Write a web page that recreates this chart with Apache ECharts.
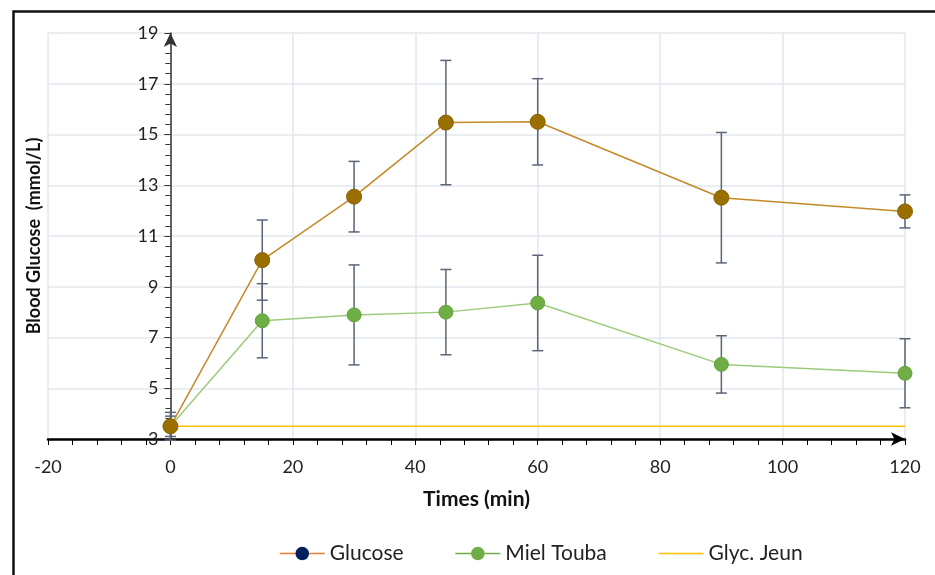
<!DOCTYPE html>
<html>
<head>
<meta charset="utf-8">
<script src="https://cdn.jsdelivr.net/npm/echarts@6/dist/echarts.min.js"></script>
<style>html,body{margin:0;padding:0;background:#fff;}#c{width:935px;height:575px;}</style>
</head>
<body>
<div id="c"></div>
<script>
const times = [0, 15, 30, 45, 60, 90, 120];
const glucoseMean = [3.5, 10.05, 12.55, 15.47, 15.5, 12.51, 11.97];
const glucoseErr = [0.55, 1.58, 1.39, 2.45, 1.7, 2.57, 0.65];
const mielMean = [3.5, 7.66, 7.89, 8.0, 8.36, 5.94, 5.59];
const mielErr = [0.4, 1.46, 1.97, 1.68, 1.88, 1.13, 1.36];
const jeunX = [0, 120];
const jeunY = [3.5, 3.5];
const seriesNames = ['Glucose', 'Miel Touba', 'Glyc. Jeun'];

const FONT = 'Lato';
const pair = (xs, ys) => xs.map((x, i) => [x, ys[i]]);
const errData = (xs, m, e) => xs.map((x, i) => [x, m[i] - e[i], m[i] + e[i]]);

function errRender(params, api) {
  const x = api.value(0), lo = api.value(1), hi = api.value(2);
  const pLo = api.coord([x, lo]), pHi = api.coord([x, hi]);
  const w = 5.5;
  const st = { stroke: '#5B6577', lineWidth: 1.5 };
  return {
    type: 'group',
    children: [
      { type: 'line', shape: { x1: pLo[0], y1: pLo[1], x2: pHi[0], y2: pHi[1] }, style: st },
      { type: 'line', shape: { x1: pLo[0] - w, y1: pLo[1], x2: pLo[0] + w, y2: pLo[1] }, style: st },
      { type: 'line', shape: { x1: pHi[0] - w, y1: pHi[1], x2: pHi[0] + w, y2: pHi[1] }, style: st }
    ]
  };
}

const GRID_LEFT = 48, GRID_RIGHT = 30;
const XMIN = -20, XMAX = 120;
const chartW = 935;
// place the y axis at x = 0 of the value axis
const yAxisOffset = -((0 - XMIN) / (XMAX - XMIN)) * (chartW - GRID_LEFT - GRID_RIGHT);

const chart = echarts.init(document.getElementById('c'), null, { renderer: 'canvas' });
chart.setOption({
  animation: false,
  backgroundColor: '#fff',
  textStyle: { fontFamily: FONT },
  grid: { left: GRID_LEFT, right: GRID_RIGHT, top: 33, bottom: 136, containLabel: false, outerBoundsMode: 'none' },
  graphic: [{
    type: 'rect', left: 11, top: 9, z: 100,
    shape: { width: 1000, height: 1000 },
    style: { fill: 'none', stroke: '#111', lineWidth: 2.5 }
  }],
  legend: {
    left: 274, top: 538, itemWidth: 45, itemHeight: 17, itemGap: 51,
    textStyle: { fontFamily: FONT, fontSize: 21, color: '#222' },
    data: [
      { name: seriesNames[0], itemStyle: { color: '#002060', borderWidth: 0 }, lineStyle: { color: '#ED7D31', width: 1.5 } },
      { name: seriesNames[1], itemStyle: { color: '#70AD47', borderWidth: 0 }, lineStyle: { color: '#70AD47', width: 1.5 } },
      { name: seriesNames[2], itemStyle: { color: 'rgba(0,0,0,0)', opacity: 0, borderWidth: 0 }, lineStyle: { color: '#FFC000', width: 1.5 } }
    ]
  },
  xAxis: {
    type: 'value', min: XMIN, max: XMAX, interval: 20,
    name: 'Times (min)', nameLocation: 'middle', nameGap: 50, nameMoveOverlap: false,
    nameTextStyle: { fontFamily: FONT, fontSize: 21, fontWeight: 'bold', color: '#111' },
    axisLine: { onZero: false, lineStyle: { color: '#000', width: 2.5 }, symbol: ['none', 'arrow'], symbolSize: [10, 14] },
    axisTick: { show: true, length: 6, lineStyle: { color: '#000', width: 1 } },
    minorTick: { show: true, splitNumber: 5, length: 6, lineStyle: { color: '#000', width: 1 } },
    axisLabel: { margin: 19, fontFamily: FONT, fontSize: 18, color: '#222' },
    splitLine: { show: true, lineStyle: { color: '#E3E7EE', width: 1.5 } }
  },
  yAxis: {
    type: 'value', min: 3, max: 19, interval: 2, offset: yAxisOffset,
    name: 'Blood Glucose  (mmol/L)', nameLocation: 'middle', nameGap: 127, nameMoveOverlap: false,
    nameTextStyle: { fontFamily: FONT, fontSize: 18, fontWeight: 'bold', color: '#111' },
    axisLine: { onZero: false, lineStyle: { color: '#333', width: 1.5 }, symbol: ['none', 'arrow'], symbolSize: [10, 14] },
    axisTick: { show: true, length: 6, lineStyle: { color: '#333', width: 1 } },
    minorTick: { show: true, splitNumber: 5, length: 5, lineStyle: { color: '#333', width: 1 } },
    axisLabel: { margin: 12, fontFamily: FONT, fontSize: 18, color: '#222' },
    splitLine: { show: true, lineStyle: { color: '#E3E7EE', width: 1.5 } }
  },
  series: [
    {
      name: seriesNames[2], type: 'line', data: pair(jeunX, jeunY), showSymbol: false, symbol: 'none',
      lineStyle: { color: '#FFC000', width: 1.5 }, itemStyle: { color: '#FFC000' }, z: 2
    },
    {
      name: 'errG', type: 'custom', renderItem: errRender, data: errData(times, glucoseMean, glucoseErr), z: 3, silent: true
    },
    {
      name: 'errM', type: 'custom', renderItem: errRender, data: errData(times, mielMean, mielErr), z: 3, silent: true
    },
    {
      name: seriesNames[1], type: 'line', data: pair(times, mielMean), symbol: 'circle', symbolSize: 14,
      lineStyle: { color: '#9CCB7C', width: 1.5 }, itemStyle: { color: '#6FAE45', borderColor: '#64A03C', borderWidth: 1 }, z: 4
    },
    {
      name: seriesNames[0], type: 'line', data: pair(times, glucoseMean), symbol: 'circle', symbolSize: 15,
      lineStyle: { color: '#C48A2A', width: 1.5 }, itemStyle: { color: '#9A6F00', borderColor: '#8A6300', borderWidth: 1 }, z: 5
    }
  ]
});
</script>
</body>
</html>
